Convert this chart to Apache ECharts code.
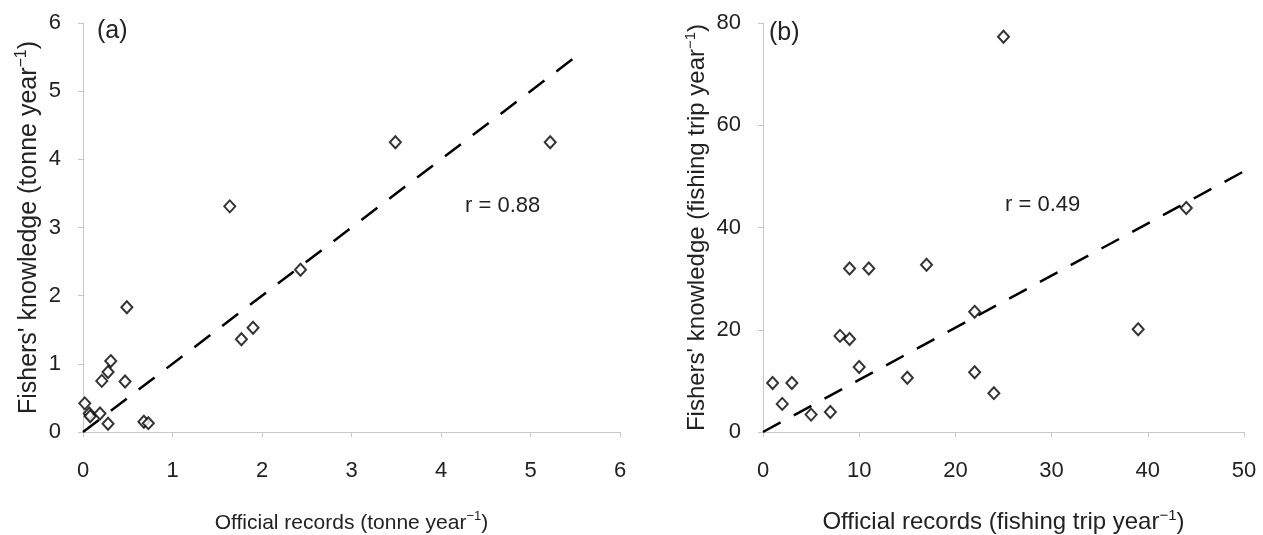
<!DOCTYPE html>
<html>
<head>
<meta charset="utf-8">
<script src="https://cdn.jsdelivr.net/npm/echarts@6/dist/echarts.min.js"></script>
<style>
html,body{margin:0;padding:0;background:#fff;}
#chart{width:1263px;height:535px;}
</style>
</head>
<body>
<div id="chart"></div>
<script>
// Panel (a): catch, tonne per year
const officialA = [0.02, 0.07, 0.08, 0.19, 0.28, 0.21, 0.28, 0.31, 0.47, 0.49, 0.68, 0.73, 1.77, 1.90, 1.64, 2.43, 3.49, 5.22];
const fishersA  = [0.42, 0.27, 0.23, 0.27, 0.12, 0.75, 0.88, 1.04, 0.74, 1.83, 0.15, 0.13, 1.36, 1.53, 3.31, 2.38, 4.25, 4.25];
const trendAx = [0, 5.5];
const trendAy = [0, 5.5];
// Panel (b): fishing trips per year
const officialB = [1, 3, 2, 5, 7, 8, 9, 9, 11, 10, 17, 15, 22, 22, 24, 44, 39, 25];
const fishersB  = [9.6, 9.6, 5.5, 3.4, 3.9, 18.8, 18.2, 32.0, 32.0, 12.7, 32.7, 10.6, 23.5, 11.7, 7.6, 43.8, 20.1, 77.3];
const trendBx = [0, 50];
const trendBy = [0, 51];
const xTicksA = [0, 1, 2, 3, 4, 5, 6];
const yTicksA = [0, 1, 2, 3, 4, 5, 6];
const xTicksB = [0, 10, 20, 30, 40, 50];
const yTicksB = [0, 20, 40, 60, 80];
const panelLabels = ['(a)', '(b)'];
const rLabels = ['r = 0.88', 'r = 0.49'];

const FONT = 'Liberation Sans, Arial, sans-serif';
const pairs = (xs, ys) => xs.map((x, i) => [x, ys[i]]);
const supRich = (fs) => ({
  sup: { fontSize: Math.round(fs * 0.62), fontFamily: FONT, color: '#222', padding: [0, 0, Math.round(fs * 0.6), 0] }
});
const mkAxis = (ticks, idx, name, nameSize, nameGap, labelMargin) => ({
  type: 'value',
  gridIndex: idx,
  min: ticks[0], max: ticks[ticks.length - 1], interval: ticks[1] - ticks[0],
  axisLine: { show: true, lineStyle: { color: '#c8c8c8', width: 1 } },
  axisTick: { show: true, length: 5, lineStyle: { color: '#c8c8c8' } },
  splitLine: { show: false },
  axisLabel: { fontSize: 22, fontFamily: FONT, color: '#222', margin: labelMargin },
  name, nameGap, nameLocation: 'middle',
  nameTextStyle: { fontSize: nameSize, fontFamily: FONT, color: '#222', rich: supRich(nameSize) }
});
const scatterStyle = {
  symbol: 'diamond', symbolSize: [11, 12],
  itemStyle: { color: '#fff', borderColor: '#000', borderWidth: 2 }
};
const lineStyle = { color: '#000', width: 2.5, type: [20, 15] };

const chart = echarts.init(document.getElementById('chart'), null, { renderer: 'canvas' });
chart.setOption({
  animation: false,
  backgroundColor: '#fff',
  grid: [
    { left: 83, right: 643, top: 23, bottom: 103, outerBoundsMode: 'none', containLabel: false },
    { left: 763, right: 19, top: 23, bottom: 103, outerBoundsMode: 'none', containLabel: false }
  ],
  xAxis: [
    mkAxis(xTicksA, 0, 'Official records (tonne year{sup|−1})', 21, 78, 28),
    mkAxis(xTicksB, 1, 'Official records (fishing trip year{sup|−1})', 24, 76, 28)
  ],
  yAxis: [
    mkAxis(yTicksA, 0, 'Fishers\' knowledge (tonne year{sup|−1})', 25, 38, 22),
    mkAxis(yTicksB, 1, 'Fishers\' knowledge (fishing trip year{sup|−1})', 24, 51, 22)
  ],
  series: [
    { type: 'line', xAxisIndex: 0, yAxisIndex: 0, data: pairs(trendAx, trendAy), showSymbol: false, lineStyle, z: 1 },
    Object.assign({ type: 'scatter', xAxisIndex: 0, yAxisIndex: 0, data: pairs(officialA, fishersA), z: 2 }, scatterStyle),
    { type: 'line', xAxisIndex: 1, yAxisIndex: 1, data: pairs(trendBx, trendBy), showSymbol: false, lineStyle, z: 1 },
    Object.assign({ type: 'scatter', xAxisIndex: 1, yAxisIndex: 1, data: pairs(officialB, fishersB), z: 2 }, scatterStyle)
  ],
  graphic: [
    { type: 'text', left: 97, top: 19, style: { text: panelLabels[0], fontSize: 25, fontFamily: FONT, fill: '#222' } },
    { type: 'text', left: 769, top: 21, style: { text: panelLabels[1], fontSize: 25, fontFamily: FONT, fill: '#222' } },
    { type: 'text', left: 465, top: 195, style: { text: rLabels[0], fontSize: 22, fontFamily: FONT, fill: '#222' } },
    { type: 'text', left: 1005, top: 194, style: { text: rLabels[1], fontSize: 22, fontFamily: FONT, fill: '#222' } }
  ]
});
</script>
</body>
</html>
